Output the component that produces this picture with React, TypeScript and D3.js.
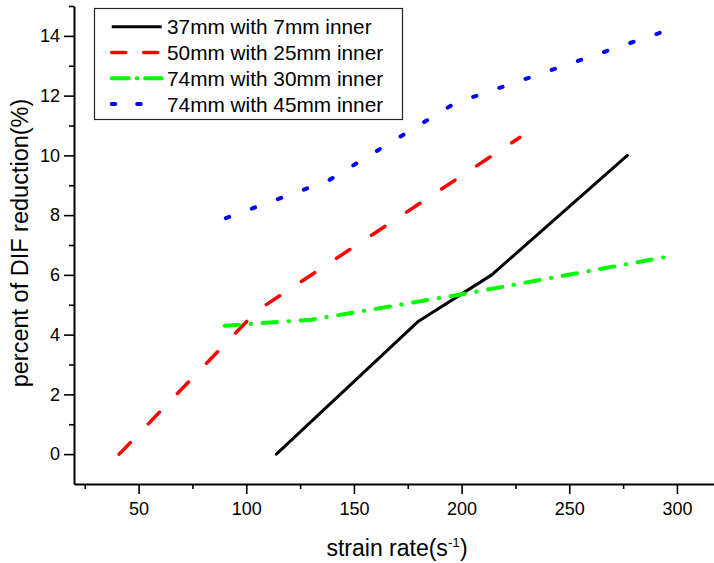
import React, { useRef, useEffect } from "react";
import * as d3 from "d3";

// tick values
const xMajorTicks = [50, 100, 150, 200, 250, 300];
const xMinorTicks = [25, 75, 125, 175, 225, 275];
const yMajorTicks = [0, 2, 4, 6, 8, 10, 12, 14];
const yMinorTicks = [1, 3, 5, 7, 9, 11, 13, 15];

// series
const seriesNames = [
  "37mm with 7mm inner",
  "50mm with 25mm inner",
  "74mm with 30mm inner",
  "74mm with 45mm inner",
];
const rate37 = [114, 180, 214, 277];
const dif37 = [0, 4.45, 6.0, 10.0];
const rate50 = [41, 105, 227];
const dif50 = [0, 4.8, 10.6];
const rate74a = [90, 130, 155, 200, 295];
const dif74a = [4.3, 4.5, 4.8, 5.35, 6.6];
const rate74b = [90.5, 138, 197, 292];
const dif74b = [7.9, 9.15, 11.75, 14.1];

interface Series {
  name: string;
  points: [number, number][];
  color: string;
  width: number;
  dash: string;
  pathLength?: number;
  legendDash: string;
}

const zip = (xs: number[], ys: number[]) =>
  xs.map((x, i) => [x, ys[i]] as [number, number]);

const series: Series[] = [
  { name: seriesNames[0], points: zip(rate37, dif37), color: "#000000", width: 3, dash: "none", legendDash: "none" },
  { name: seriesNames[1], points: zip(rate50, dif50), color: "#ff0000", width: 3.5, dash: "16 26", legendDash: "14 18" },
  { name: seriesNames[2], points: zip(rate74a, dif74a), color: "#00ff00", width: 4, dash: "14.5 11.5 0.5 11.5", legendDash: "17 8 0.5 8" },
  // 18 dots along the line, last one sitting on the end point
  { name: seriesNames[3], points: zip(rate74b, dif74b), color: "#0000ff", width: 4, dash: "1.26 8.74", pathLength: 171.26, legendDash: "3.5 22" },
];

const FONT = "Arial, 'Liberation Sans', sans-serif";

export default function App() {
  const xAxisRef = useRef<SVGGElement>(null);
  const xMinorRef = useRef<SVGGElement>(null);
  const yAxisRef = useRef<SVGGElement>(null);
  const yMinorRef = useRef<SVGGElement>(null);

  const dims = { width: 714, height: 563 };
  const x = d3.scaleLinear().domain([20, 320]).range([74, 720]);
  const y = d3.scaleLinear().domain([-1, 15]).range([484, 6]);

  const line = d3
    .line<[number, number]>()
    .x(d => x(d[0]))
    .y(d => y(d[1]));

  useEffect(() => {
    const styleAxis = (g: d3.Selection<SVGGElement, unknown, null, undefined>) => {
      g.select(".domain").attr("stroke", "#000").attr("stroke-width", 2);
      g.selectAll(".tick line").attr("stroke", "#000").attr("stroke-width", 1.6);
      g.selectAll(".tick text")
        .attr("fill", "#000")
        .style("font-family", FONT)
        .style("font-size", "18px");
    };

    const xg = d3.select(xAxisRef.current!);
    xg.call(
      d3.axisBottom(x).tickValues(xMajorTicks).tickSize(10).tickSizeOuter(0).tickPadding(8).tickFormat(d3.format("d"))
    );
    styleAxis(xg);

    const xm = d3.select(xMinorRef.current!);
    xm.call(d3.axisBottom(x).tickValues(xMinorTicks).tickSize(5).tickSizeOuter(0).tickFormat(() => ""));
    xm.select(".domain").remove();
    styleAxis(xm);

    const yg = d3.select(yAxisRef.current!);
    yg.call(
      d3.axisLeft(y).tickValues(yMajorTicks).tickSize(10).tickSizeOuter(0).tickPadding(4).tickFormat(d3.format("d"))
    );
    styleAxis(yg);

    const ym = d3.select(yMinorRef.current!);
    ym.call(d3.axisLeft(y).tickValues(yMinorTicks).tickSize(5).tickSizeOuter(0).tickFormat(() => ""));
    ym.select(".domain").remove();
    styleAxis(ym);
  }, []);

  const legend = { x: 94.5, y: 8.5, w: 308, h: 111, rowY: 26.7, rowStep: 25.8, lineX0: 111.7, lineX1: 161.7, textX: 167 };

  return (
    <svg
      width={dims.width}
      height={dims.height}
      style={{ position: "absolute", left: 0, top: 0, background: "#fff" }}
    >
      <rect x={0} y={0} width={dims.width} height={dims.height} fill="#fff" />

      {series.map(s => (
        <path
          key={s.name}
          d={line(s.points) ?? ""}
          fill="none"
          stroke={s.color}
          strokeWidth={s.width}
          strokeDasharray={s.dash}
          pathLength={s.pathLength}
          strokeLinecap="round"
          strokeLinejoin="round"
        />
      ))}

      <g ref={xMinorRef} transform={`translate(0, ${y(-1)})`} />
      <g ref={xAxisRef} transform={`translate(0, ${y(-1)})`} />
      <g ref={yMinorRef} transform={`translate(${x(20)}, 0)`} />
      <g ref={yAxisRef} transform={`translate(${x(20)}, 0)`} />

      {/* legend */}
      <rect
        x={legend.x}
        y={legend.y}
        width={legend.w}
        height={legend.h}
        fill="#fff"
        stroke="#222"
        strokeWidth={1.2}
      />
      {series.map((s, i) => {
        const ly = legend.rowY + i * legend.rowStep;
        return (
          <g key={s.name}>
            <line
              x1={legend.lineX0}
              x2={legend.lineX1}
              y1={ly}
              y2={ly}
              stroke={s.color}
              strokeWidth={s.width}
              strokeDasharray={s.legendDash}
              strokeLinecap={i === 0 ? "butt" : "round"}
            />
            <text
              x={legend.textX}
              y={ly}
              dy="0.36em"
              fontFamily={FONT}
              fontSize={20.8}
              fill="#000"
            >
              {s.name}
            </text>
          </g>
        );
      })}

      {/* axis titles */}
      <text x={397} y={556} textAnchor="middle" fontFamily={FONT} fontSize={23} fill="#000">
        strain rate(s
        <tspan fontSize={13.5} dy={-9.5}>-1</tspan>
        <tspan dy={9.5}>)</tspan>
      </text>
      <text
        transform={`translate(28, 243) rotate(-90)`}
        textAnchor="middle"
        fontFamily={FONT}
        fontSize={23.5}
        fill="#000"
      >
        percent of DIF reduction(%)
      </text>
    </svg>
  );
}
